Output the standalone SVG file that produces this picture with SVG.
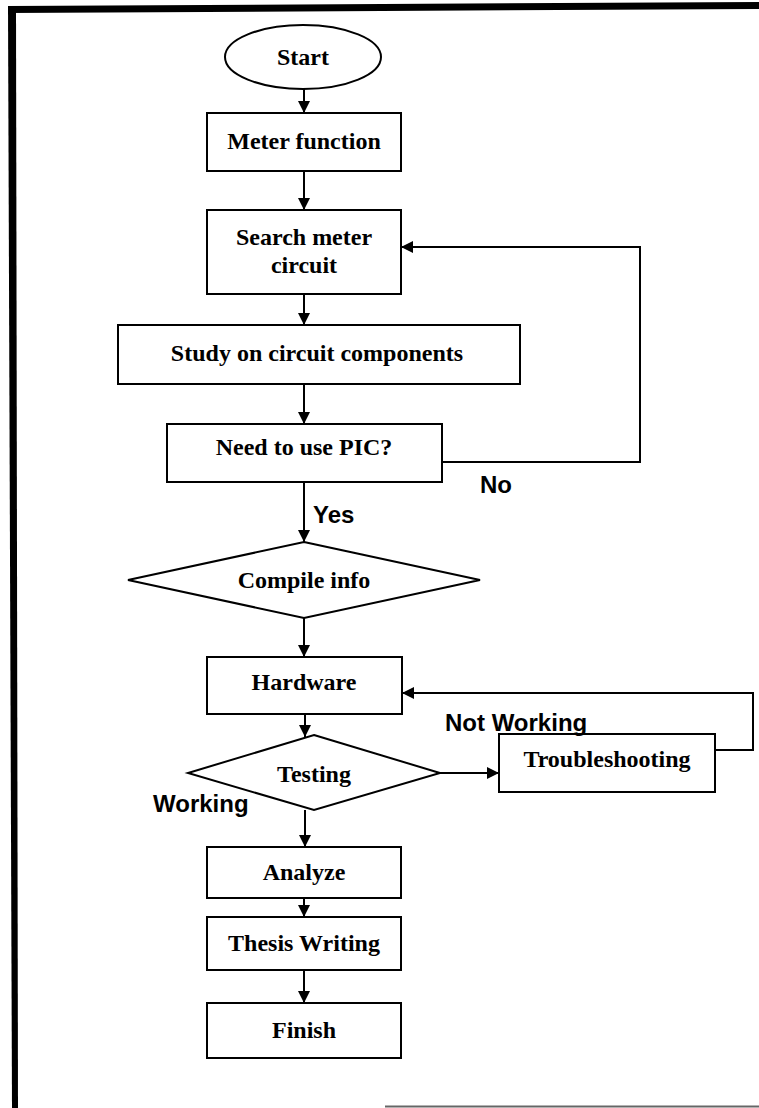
<svg xmlns="http://www.w3.org/2000/svg" width="759" height="1108" viewBox="0 0 759 1108">
<style>
.box{fill:#fff;stroke:#000;stroke-width:2}
.t{font-family:"Liberation Serif","Times New Roman",serif;font-weight:bold;font-size:24px;text-anchor:middle;fill:#000}
.lbl{font-family:"Liberation Sans",Arial,sans-serif;font-weight:bold;font-size:24px;fill:#000}
.c{fill:none;stroke:#000;stroke-width:2}
</style>
<defs>
<marker id="ah" viewBox="0 0 10 10" refX="10" refY="5" markerWidth="6" markerHeight="6" orient="auto" markerUnits="strokeWidth">
<path d="M0,0 L10,5 L0,10 z" fill="#000"/>
</marker>
</defs>
<rect width="759" height="1108" fill="#fff"/>
<g id="border">
<polygon points="8,6 759,2 759,9 8,13" fill="#000"/>
<polygon points="8,6 16,6 18,1108 12,1108" fill="#000"/>
<line x1="385" y1="1106.5" x2="759" y2="1106.5" stroke="#666" stroke-width="2"/>
</g>
<g id="connectors">
<line class="c" x1="304" y1="89" x2="304" y2="113" marker-end="url(#ah)"/>
<line class="c" x1="304" y1="171" x2="304" y2="210" marker-end="url(#ah)"/>
<line class="c" x1="304" y1="294" x2="304" y2="325" marker-end="url(#ah)"/>
<line class="c" x1="304" y1="384" x2="304" y2="424" marker-end="url(#ah)"/>
<polyline class="c" points="442,462 640,462 640,247 401,247" marker-end="url(#ah)"/>
<line class="c" x1="304" y1="482" x2="304" y2="542" marker-end="url(#ah)"/>
<line class="c" x1="304" y1="618" x2="304" y2="657" marker-end="url(#ah)"/>
<line class="c" x1="305" y1="714" x2="305" y2="737" marker-end="url(#ah)"/>
<line class="c" x1="440" y1="773" x2="499" y2="773" marker-end="url(#ah)"/>
<polyline class="c" points="715,750 753,750 753,693 402,693" marker-end="url(#ah)"/>
<line class="c" x1="305" y1="810" x2="305" y2="847" marker-end="url(#ah)"/>
<line class="c" x1="304" y1="898" x2="304" y2="917" marker-end="url(#ah)"/>
<line class="c" x1="304" y1="970" x2="304" y2="1003" marker-end="url(#ah)"/>
</g>
<g id="start">
<ellipse class="box" cx="303" cy="57" rx="78" ry="32"/>
<text class="t" x="303" y="65">Start</text>
</g>
<g id="meter-function">
<rect class="box" x="207" y="113" width="194" height="58"/>
<text class="t" x="304" y="149">Meter function</text>
</g>
<g id="search-meter-circuit">
<rect class="box" x="207" y="210" width="194" height="84"/>
<text class="t" x="304" y="245">Search meter</text>
<text class="t" x="304" y="273">circuit</text>
</g>
<g id="study">
<rect class="box" x="118" y="325" width="402" height="59"/>
<text class="t" x="317" y="361">Study on circuit components</text>
</g>
<g id="need-pic">
<rect class="box" x="167" y="424" width="275" height="58"/>
<text class="t" x="304" y="455">Need to use PIC?</text>
</g>
<g id="compile-info">
<polygon class="box" points="304,542 480,580 304,618 128,580"/>
<text class="t" x="304" y="588">Compile info</text>
</g>
<g id="hardware">
<rect class="box" x="207" y="657" width="195" height="57"/>
<text class="t" x="304" y="690">Hardware</text>
</g>
<g id="testing">
<polygon class="box" points="314,735 440,773 314,810 188,773"/>
<text class="t" x="314" y="782">Testing</text>
</g>
<g id="troubleshooting">
<rect class="box" x="499" y="734" width="216" height="58"/>
<text class="t" x="607" y="767">Troubleshooting</text>
</g>
<g id="analyze">
<rect class="box" x="207" y="847" width="194" height="51"/>
<text class="t" x="304" y="880">Analyze</text>
</g>
<g id="thesis-writing">
<rect class="box" x="207" y="917" width="194" height="53"/>
<text class="t" x="304" y="951">Thesis Writing</text>
</g>
<g id="finish">
<rect class="box" x="207" y="1003" width="194" height="55"/>
<text class="t" x="304" y="1038">Finish</text>
</g>
<g id="labels">
<text class="lbl" x="480" y="493">No</text>
<text class="lbl" x="313" y="523">Yes</text>
<text class="lbl" x="445" y="731">Not Working</text>
<text class="lbl" x="153" y="812">Working</text>
</g>
</svg>
